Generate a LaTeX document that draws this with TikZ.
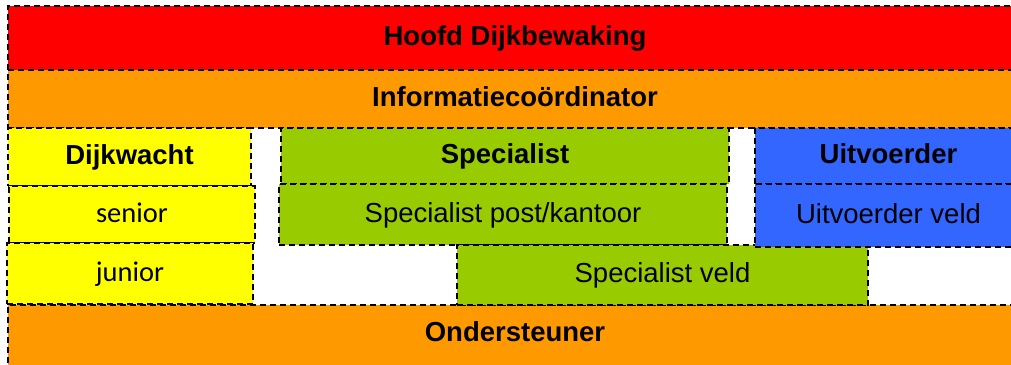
\documentclass[tikz,border=0pt]{standalone}
\usepackage{fontspec}
\setmainfont{Liberation Sans}
\newfontfamily\calfont{Carlito}
\definecolor{cRed}{HTML}{FF0000}
\definecolor{cOrange}{HTML}{FF9900}
\definecolor{cYellow}{HTML}{FFFF00}
\definecolor{cGreen}{HTML}{99CC00}
\definecolor{cBlue}{HTML}{3366FF}
\begin{document}
\begin{tikzpicture}[x=1pt,y=-1pt,
  box/.style={draw=black, dash pattern=on 6pt off 4pt, line width=1.4pt,
    inner sep=0pt, outer sep=0pt, anchor=north west,
    text height=20pt, text depth=5pt, align=center,
    font=\fontsize{27.5}{32}\selectfont},
  head/.style={font=\fontsize{27.5}{32}\selectfont\bfseries},
  cal/.style={font=\fontsize{28.5}{32}\selectfont\calfont}]
\useasboundingbox (0,0) rectangle (1011,364);
\fill[white] (0,0) rectangle (1011,364);
\clip (0,0) rectangle (1011,364);
% full-width rows
\node[box, head, fill=cRed, minimum width=1014pt, minimum height=64pt] (hoofd) at (8,6) {Hoofd Dijkbewaking};
\node[box, head, fill=cOrange, minimum width=1014pt, minimum height=58pt] (info) at (8,70) {Informatieco\"ordinator};
\node[box, head, fill=cOrange, minimum width=1014pt, minimum height=70pt, text depth=17pt] (onder) at (8,305) {Ondersteuner};
% Dijkwacht column
\node[box, head, fill=cYellow, minimum width=243pt, minimum height=58pt] (dijk) at (8,128) {Dijkwacht};
\node[box, cal, fill=cYellow, minimum width=246pt, minimum height=57pt] (senior) at (9,186) {senior};
\node[box, cal, fill=cYellow, minimum width=246pt, minimum height=61pt] (junior) at (7,243) {junior};
% Specialist column
\node[box, head, fill=cGreen, minimum width=448pt, minimum height=56pt] (spec) at (281,128) {Specialist};
\node[box, fill=cGreen, minimum width=448pt, minimum height=61pt] (specpost) at (279,184) {Specialist post/kantoor};
\node[box, fill=cGreen, minimum width=411pt, minimum height=60pt] (specveld) at (457,245) {Specialist veld};
% Uitvoerder column
\node[box, head, fill=cBlue, minimum width=267pt, minimum height=56pt] (uit) at (755,128) {Uitvoerder};
\node[box, fill=cBlue, minimum width=267pt, minimum height=63pt] (uitveld) at (755,184) {Uitvoerder veld};
\end{tikzpicture}
\end{document}
